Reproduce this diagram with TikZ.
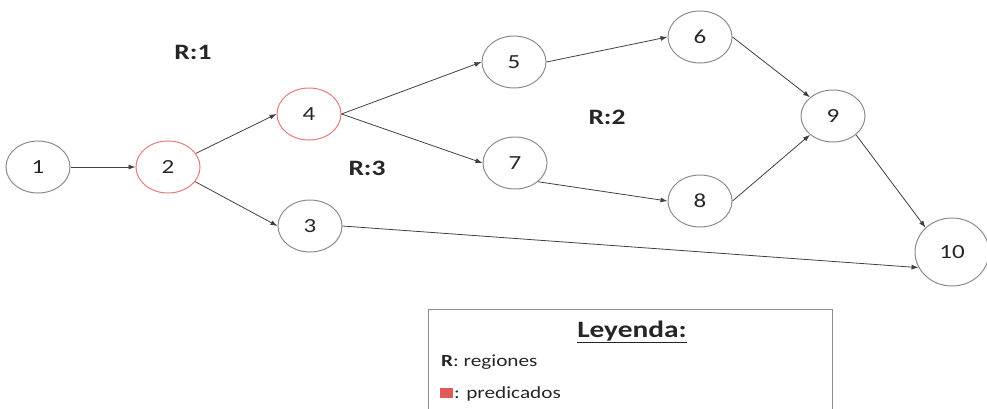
\documentclass[tikz,border=0pt]{standalone}
\usepackage{fontspec}
\setmainfont{Carlito}[FakeStretch=1.25]
\usetikzlibrary{arrows.meta,positioning,shapes.geometric}
\definecolor{edgegray}{HTML}{404040}
\definecolor{predred}{HTML}{E05A5A}
\definecolor{txtgray}{HTML}{262626}

\begin{document}
\begin{tikzpicture}[x=1pt, y=-1pt,
    block/.style={ellipse, draw=gray!90, line width=1pt, minimum width=64pt, minimum height=52pt, inner sep=0pt, text=txtgray, font=\fontsize{20}{22}\selectfont},
    pred/.style={block, draw=predred!80},
    region/.style={text=txtgray, font=\bfseries\fontsize{22}{24}\selectfont},
    legtext/.style={text=txtgray, inner sep=0pt, anchor=base west, font=\fontsize{17}{20}\selectfont},
    flow/.style={draw=edgegray, line width=0.8pt, -{Latex[length=7pt,width=5pt]}}]
    \useasboundingbox (0,0) rectangle (987,408);
    \clip (0,0) rectangle (987,408);

    % Define nodes of the flow graph
    \node[block] at (38,167) (n1) {1};
    \node[pred] at (168,167) (n2) {2};
    \node[block] at (310,226) (n3) {3};
    \node[pred] at (309,114) (n4) {4};
    \node[block] at (514,62) (n5) {5};
    \node[block] at (700,37) (n6) {6};
    \node[block] at (515,163) (n7) {7};
    \node[block] at (700,201) (n8) {8};
    \node[block] at (833,116) (n9) {9};
    \node[block, minimum width=74pt, minimum height=68pt] at (952,252) (n10) {10};

    % Region labels
    \node[region] at (193,52) (r1) {R:1};
    \node[region] at (607,117) (r2) {R:2};
    \node[region] at (367,168) (r3) {R:3};

    % Draw edges
    \draw[flow] (n1) -- (n2);
    \draw[flow] (n2) -- (n4.west);
    \draw[flow] (n2) -- (n3.west);
    \draw[flow] (n4.east) -- (n5.west);
    \draw[flow] (n4.east) -- (n7.west);
    \draw[flow] (n5.east) -- (n6.west);
    \draw[flow] (n7.south east) -- (n8.west);
    \draw[flow] (n6.east) -- (n9.north west);
    \draw[flow] (n8.east) -- (n9.south west);
    \draw[flow] (n9.south east) -- (n10.north west);
    \draw[flow] (n3.east) -- (n10.205);

    % Legend box
    \node[draw=gray!90, line width=1pt, anchor=north west, minimum width=404pt, minimum height=120pt] at (428,309) (legend) {};
    \node[text=txtgray, anchor=base, font=\bfseries\fontsize{23.5}{26}\selectfont] at (632,337) (ley) {\underline{Leyenda:}};
    \node[legtext] at (441,366) (lr) {\textbf{R}: regiones};
    \node[fill=predred, minimum width=13pt, minimum height=10pt, inner sep=0pt, anchor=south west] at (440,398) (sq) {};
    \node[legtext] at (454,398) (lp) {: predicados};
\end{tikzpicture}
\end{document}
